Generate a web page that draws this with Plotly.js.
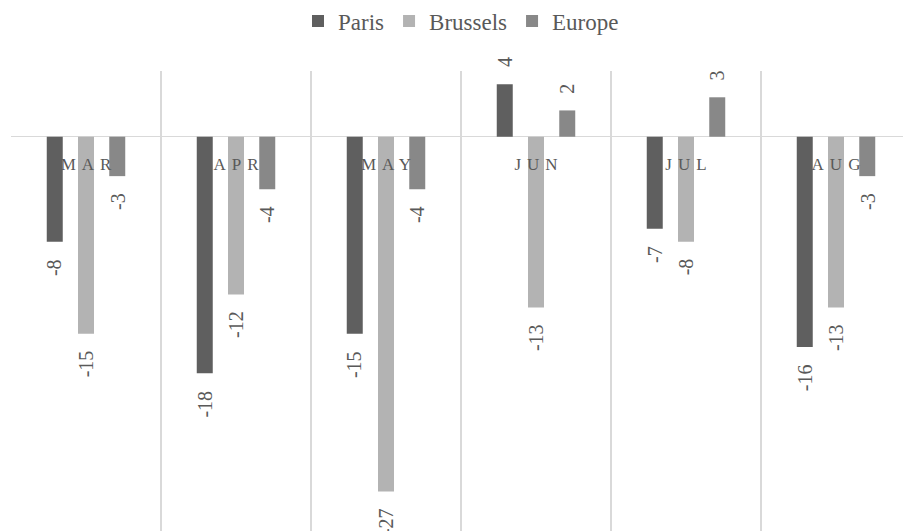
<!DOCTYPE html>
<html>
<head>
<meta charset="utf-8">
<script src="https://cdn.plot.ly/plotly-3.0.1.min.js"></script>
<style>
  html, body { margin: 0; padding: 0; overflow: hidden; background: #fff; }
  #chart { width: 911px; height: 560px; }
  .xtick text { letter-spacing: 6px; }
</style>
</head>
<body>
<div id="chart"></div>
<script>
// ---- data ----
const categories = ['MAR', 'APR', 'MAY', 'JUN', 'JUL', 'AUG'];
const seriesNames = ['Paris', 'Brussels', 'Europe'];
const paris    = [-8, -18, -15, 4, -7, -16];
const brussels = [-15, -12, -27, -13, -8, -13];
const europe   = [-3, -4, -4, 2, 3, -3];
const seriesColors = ['#5f5f5f', '#b3b3b3', '#888888'];
const yRange = [-30, 5];

// ---- layout constants ----
const W = 911, H = 560;
const M = {l: 11, r: 0, t: 71, b: 29};
const bargap = 0.375, bargroupgap = 0.488;
const plotW = W - M.l - M.r;
const catPx = plotW / categories.length;
const slotPx = catPx * (1 - bargap) / seriesNames.length;
const labelGap = 15;
const textColor = '#595959';
const serif = 'Tinos, Nimbus Roman, Nimbus Roman No9 L, Times, FreeSerif, Liberation Serif Regular, DejaVu Serif';

const seriesValues = [paris, brussels, europe];

const traces = seriesValues.map((vals, i) => ({
  type: 'bar',
  name: seriesNames[i],
  x: categories,
  y: vals,
  marker: {color: seriesColors[i]},
  hoverinfo: 'x+y+name'
}));

const annotations = [];
seriesValues.forEach((vals, i) => {
  vals.forEach((v, j) => {
    annotations.push({
      x: categories[j], y: v, xref: 'x', yref: 'y',
      text: String(v), showarrow: false, textangle: -90,
      xanchor: 'center', yanchor: v < 0 ? 'top' : 'bottom',
      xshift: (i - (seriesNames.length - 1) / 2) * slotPx,
      yshift: v < 0 ? -labelGap : labelGap,
      font: {family: serif, size: 20, color: textColor}
    });
  });
});

const layout = {
  width: W, height: H,
  margin: M,
  font: {family: serif, color: textColor},
  paper_bgcolor: '#ffffff', plot_bgcolor: '#ffffff',
  barmode: 'group', bargap: bargap, bargroupgap: bargroupgap,
  showlegend: true,
  legend: {
    orientation: 'h', xref: 'paper', x: 0.5, xanchor: 'center',
    yref: 'container', y: 1 - 21 / H, yanchor: 'middle',
    font: {family: serif, size: 23, color: textColor},
    itemclick: false
  },
  xaxis: {
    type: 'category',
    anchor: 'free',
    position: (0 - yRange[0]) / (yRange[1] - yRange[0]),
    tickson: 'boundaries',
    showgrid: true, gridcolor: '#d9d9d9', gridwidth: 1.5,
    showline: false, ticks: '', zeroline: false,
    tickfont: {family: serif, size: 17, color: textColor},
    ticklabelstandoff: 15,
    fixedrange: true
  },
  yaxis: {
    range: yRange,
    showgrid: false, showticklabels: false, ticks: '',
    zeroline: true, zerolinecolor: '#d9d9d9', zerolinewidth: 1.5,
    showline: false, fixedrange: true
  },
  annotations: annotations
};

Plotly.newPlot('chart', traces, layout, {displayModeBar: false, staticPlot: true}).then(() => {
  document.querySelectorAll('.xtick text').forEach(t => t.setAttribute('dx', 3));
});
</script>
</body>
</html>
